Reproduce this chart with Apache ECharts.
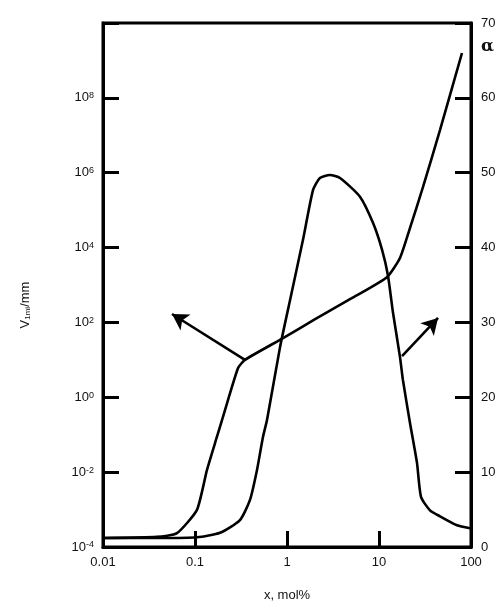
<!DOCTYPE html>
<html>
<head>
<meta charset="utf-8">
<script src="https://cdn.jsdelivr.net/npm/echarts@6/dist/echarts.min.js"></script>
<style>html,body{margin:0;padding:0;background:#fff;}#c{width:504px;height:608px;}</style>
</head>
<body>
<div id="c"></div>
<script>
// S-shaped curve, read on the left (log) axis: V1m/mm
const xV = [0.01, 0.0386, 0.0637, 0.105, 0.135, 0.173, 0.201, 0.293, 0.349, 0.905, 2.0, 5.0, 12.2, 16.9, 21.7, 30.1, 46.0, 79.8];
const V  = [1.74e-4, 1.86e-4, 2.34e-4, 9.8e-4, 0.0115, 0.087, 0.295, 6.0, 10, 38, 120, 437, 1620, 5250, 33100, 4.17e5, 1.38e7, 1.58e9];
// bell-shaped curve, read on the right (linear) axis: alpha
const xA = [0.01, 0.0417, 0.105, 0.187, 0.308, 0.396, 0.472, 0.548, 0.607, 0.84, 1.08, 1.49, 1.92, 2.28, 2.93, 3.77, 6.21, 8.6, 10.8, 12.5, 14.2, 16.9, 18.2, 21.7, 25.9, 28.6, 35.8, 46.0, 70.5, 97.5];
const alpha = [1.2, 1.2, 1.3, 1.9, 3.6, 6.3, 10.3, 14.7, 17.0, 26.7, 33.0, 41.0, 47.7, 49.3, 49.7, 49.3, 46.8, 43.3, 39.7, 36.3, 31.3, 25.4, 22.3, 16.6, 11.2, 6.7, 4.9, 4.1, 2.9, 2.5];
// tick values
const xTicks = [0.01, 0.1, 1, 10, 100];
const leftMin = 1e-4, leftMax = 1e10;
const rightMin = 0, rightMax = 70, rightStep = 10;
// annotation arrows (data coordinates)
const arrowLeft = {from: [0.349, 10], to: [0.0562, 168]};
const arrowRight = {from: [17.8, 25.5], to: [43.8, 30.6]};

const font = 'Liberation Sans, Arial, sans-serif';
const chart = echarts.init(document.getElementById('c'), null, {renderer: 'canvas'});
const tickStyle = {inside: true, length: 16, lineStyle: {color: '#000', width: 3}};
const lineAxis = {show: true, lineStyle: {color: '#000', width: 3}};

chart.setOption({
  animation: false,
  backgroundColor: '#fff',
  grid: {left: 103, right: 33, top: 23, bottom: 61, show: true, borderColor: '#000', borderWidth: 3, backgroundColor: 'transparent'},
  xAxis: {
    type: 'log', logBase: 10, min: xTicks[0], max: xTicks[xTicks.length - 1],
    axisLine: lineAxis, axisTick: tickStyle, splitLine: {show: false}, minorTick: {show: false},
    axisLabel: {color: '#111', fontSize: 13, fontFamily: font, margin: 9,
      formatter: v => { const e = Math.round(Math.log10(v)); return e < 0 ? (Math.pow(10, e)).toFixed(-e) : String(Math.round(Math.pow(10, e))); }},
    name: 'x, mol%', nameLocation: 'middle', nameGap: 42,
    nameTextStyle: {color: '#111', fontSize: 13, fontFamily: font}
  },
  yAxis: [
    {
      type: 'log', logBase: 10, min: leftMin, max: leftMax, interval: 2,
      axisLine: lineAxis, axisTick: tickStyle, splitLine: {show: false}, minorTick: {show: false},
      axisLabel: {color: '#111', fontSize: 13, fontFamily: font, margin: 9,
        formatter: v => { const e = Math.round(Math.log10(v)); if (e >= 10) return ''; return '10{sup|' + e + '}'; },
        rich: {sup: {fontSize: 9, fontFamily: font, color: '#111', verticalAlign: 'top', lineHeight: 8}}}
    },
    {
      type: 'value', min: rightMin, max: rightMax, interval: rightStep, position: 'right',
      axisLine: lineAxis, axisTick: tickStyle, splitLine: {show: false},
      axisLabel: {color: '#111', fontSize: 13, fontFamily: font, margin: 10}
    }
  ],
  series: [
    {
      type: 'line', yAxisIndex: 0, data: xV.map((x, i) => [x, V[i]]),
      showSymbol: false, smooth: 0.18, lineStyle: {color: '#000', width: 2.6}, silent: true,
      markLine: {silent: true, symbol: ['none', 'arrow'], symbolSize: [14, 16], label: {show: false},
        lineStyle: {color: '#000', width: 2.6, type: 'solid'},
        data: [[{coord: arrowLeft.from}, {coord: arrowLeft.to}]]}
    },
    {
      type: 'line', yAxisIndex: 1, data: xA.map((x, i) => [x, alpha[i]]),
      showSymbol: false, smooth: 0.2, lineStyle: {color: '#000', width: 2.6}, silent: true,
      markLine: {silent: true, symbol: ['none', 'arrow'], symbolSize: [14, 16], label: {show: false},
        lineStyle: {color: '#000', width: 2.6, type: 'solid'},
        data: [[{coord: arrowRight.from}, {coord: arrowRight.to}]]}
    }
  ],
  graphic: [
    {type: 'text', left: 481, top: 38, style: {text: 'α', font: 'bold 17px "DejaVu Serif", serif', fill: '#111'}},
    {type: 'text', x: 25, y: 305, rotation: Math.PI / 2,
      style: {text: 'V{sub|1mi}/mm', align: 'center', verticalAlign: 'middle', font: '13px ' + font, fill: '#111',
        rich: {sub: {fontSize: 8, fontFamily: font, fill: '#111', verticalAlign: 'bottom', lineHeight: 8}}}}
  ]
});
</script>
</body>
</html>
